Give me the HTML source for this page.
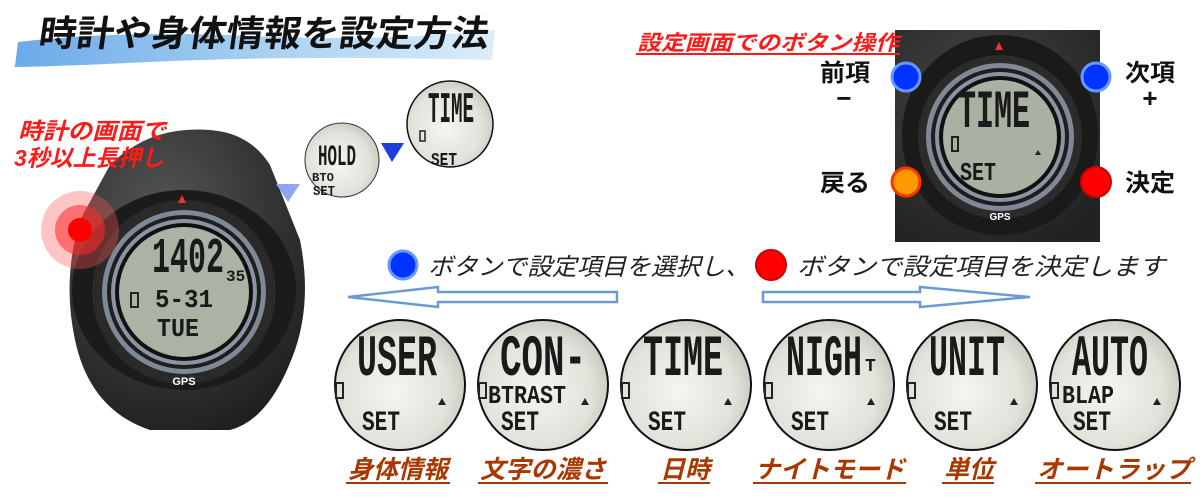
<!DOCTYPE html>
<html><head><meta charset="utf-8">
<style>
html,body{margin:0;padding:0;background:#fff;}
svg{display:block;}
.jp{font-family:"Liberation Sans","Noto Sans CJK JP",sans-serif;}
.lcd{font-family:"Liberation Mono","DejaVu Sans Mono",monospace;font-weight:bold;fill:#1a1a1a;}
</style></head>
<body>
<svg width="1200" height="500" viewBox="0 0 1200 500" xmlns="http://www.w3.org/2000/svg">
<defs>
<radialGradient id="lcdg" cx="0.45" cy="0.55" r="0.6">
<stop offset="0" stop-color="#f4f6f1"/><stop offset="0.7" stop-color="#dfe3da"/><stop offset="1" stop-color="#c3c8bd"/>
</radialGradient>
<linearGradient id="brush" x1="0" x2="1" y1="0" y2="0">
<stop offset="0" stop-color="#5aa0e6"/><stop offset="0.5" stop-color="#9cc9f0"/><stop offset="1" stop-color="#d8ebfa"/>
</linearGradient>
<radialGradient id="body" cx="0.4" cy="0.3" r="0.8">
<stop offset="0" stop-color="#555"/><stop offset="1" stop-color="#1c1c1c"/>
</radialGradient>
<g id="lcdC">
<circle r="65" fill="url(#lcdg)" stroke="#111" stroke-width="2"/>
<rect x="-64" y="-2" width="7" height="15" fill="none" stroke="#222" stroke-width="2"/>
<path d="M38 20 l4 -7 l4 7z" fill="#222"/>
</g>
</defs>

<!-- title -->
<path d="M18 42 Q120 30 250 36 T495 30 L492 60 Q300 55 150 62 T15 66 Z" fill="url(#brush)" opacity="0.9"/>
<text x="38" y="46" class="jp" font-size="36" font-weight="bold" fill="#111" textLength="450" lengthAdjust="spacingAndGlyphs" transform="skewX(-8) translate(6,0)">時計や身体情報を設定方法</text>

<!-- left watch -->
<path d="M110 165 Q150 125 210 130 Q250 133 270 165 L300 240 Q312 300 295 350 Q270 420 230 430 L150 430 Q90 410 75 340 Q62 280 80 220 Z" fill="url(#body)"/>
<ellipse cx="184" cy="290" rx="112" ry="100" fill="#1b1b1b"/>
<circle cx="184" cy="292" r="92" fill="#2a2a2a"/>
<circle cx="184" cy="292" r="82" fill="#7e8896"/>
<circle cx="184" cy="292" r="77" fill="#1e1e1e"/>
<circle cx="184" cy="292" r="73" fill="#8a94a2"/>
<circle cx="184" cy="292" r="69" fill="#111"/>
<circle cx="184" cy="292" r="65" fill="#aab3a4"/>
<path d="M178 203 l4 -8 l4 8z" fill="#e33"/>
<text x="184" y="385" text-anchor="middle" font-family="Liberation Sans" font-weight="bold" font-size="11" fill="#fff">GPS</text>
<text x="152" y="272" class="lcd" font-size="50" textLength="72" lengthAdjust="spacingAndGlyphs">1402</text>
<text x="226" y="281" class="lcd" font-size="16">35</text>
<text x="155" y="307" class="lcd" font-size="26" textLength="58" lengthAdjust="spacingAndGlyphs">5-31</text>
<text x="157" y="336" class="lcd" font-size="26" textLength="42" lengthAdjust="spacingAndGlyphs">TUE</text>
<rect x="131" y="293" width="7" height="14" fill="none" stroke="#222" stroke-width="2"/>
<circle cx="80" cy="230" r="39" fill="#ff5555" opacity="0.35"/>
<circle cx="80" cy="230" r="25" fill="#ff2a2a" opacity="0.55"/>
<circle cx="80" cy="230" r="12" fill="#ff0000"/>

<!-- red label -->
<text x="18" y="139" class="jp" font-size="23" font-style="italic" font-weight="bold" fill="#ff1a1a" textLength="148" lengthAdjust="spacingAndGlyphs">時計の画面で</text>
<text x="14" y="166" class="jp" font-size="23" font-style="italic" font-weight="bold" fill="#ff1a1a" textLength="150" lengthAdjust="spacingAndGlyphs">3秒以上長押し</text>

<!-- triangles -->
<path d="M276 184 L300 184 L288 202 Z" fill="#8fa6f0"/>
<path d="M381 143 L404 143 L392 162 Z" fill="#1f3de0"/>

<!-- HOLD circle -->
<circle cx="342" cy="160" r="37" fill="url(#lcdg)" stroke="#333" stroke-width="1"/>
<text x="318" y="165" class="lcd" font-size="30" textLength="38" lengthAdjust="spacingAndGlyphs">HOLD</text>
<text x="312" y="181" class="lcd" font-size="12" textLength="22" lengthAdjust="spacingAndGlyphs">BTO</text>
<text x="313" y="195" class="lcd" font-size="14" textLength="22" lengthAdjust="spacingAndGlyphs">SET</text>

<!-- TIME small -->
<circle cx="450" cy="124" r="43" fill="url(#lcdg)" stroke="#111" stroke-width="1.5"/>
<text x="428" y="122" class="lcd" font-size="44" textLength="46" lengthAdjust="spacingAndGlyphs">TIME</text>
<rect x="420" y="131" width="5" height="10" fill="none" stroke="#222" stroke-width="1.5"/>
<text x="431" y="165" class="lcd" font-size="18" textLength="26" lengthAdjust="spacingAndGlyphs">SET</text>

<!-- right watch -->
<path d="M895 30 L1100 30 L1100 242 L895 242Z" fill="#2a2a2a"/>
<path d="M895 30 L1100 30 L1100 242 L895 242Z" fill="url(#body)" opacity="0.6"/>
<ellipse cx="1000" cy="135" rx="98" ry="100" fill="#1a1a1a"/>
<circle cx="1000" cy="137" r="82" fill="#2b2b2b"/>
<circle cx="1000" cy="137" r="74" fill="#7e8896"/>
<circle cx="1000" cy="137" r="69" fill="#1e1e1e"/>
<circle cx="1000" cy="137" r="65" fill="#8a94a2"/>
<circle cx="1000" cy="137" r="61" fill="#111"/>
<circle cx="1000" cy="137" r="57" fill="#a8b1a2"/>
<path d="M995 50 l4 -8 l4 8z" fill="#e33"/>
<text x="1000" y="220" text-anchor="middle" font-family="Liberation Sans" font-weight="bold" font-size="10" fill="#fff">GPS</text>
<text x="958" y="127" class="lcd" font-size="54" textLength="72" lengthAdjust="spacingAndGlyphs">TIME</text>
<rect x="952" y="137" width="6" height="14" fill="none" stroke="#222" stroke-width="2"/>
<text x="960" y="180" class="lcd" font-size="26" textLength="36" lengthAdjust="spacingAndGlyphs">SET</text>
<path d="M1035 155 l3 -5 l3 5z" fill="#222"/>

<circle cx="906" cy="77" r="14" fill="#0033ff" stroke="#6699ff" stroke-width="3"/>
<circle cx="1096" cy="77" r="14" fill="#0033ff" stroke="#6699ff" stroke-width="3"/>
<circle cx="906" cy="182" r="14" fill="#ff9900" stroke="#ff3300" stroke-width="3"/>
<circle cx="1096" cy="182" r="15" fill="#ff0000" stroke="#cc0000" stroke-width="2"/>

<text x="637" y="50" class="jp" font-size="21" font-style="italic" font-weight="bold" fill="#ff1a1a" textLength="262" lengthAdjust="spacingAndGlyphs">設定画面でのボタン操作</text>
<rect x="636" y="53" width="264" height="2" fill="#ff1a1a"/>
<text x="820" y="81" class="jp" font-size="24" font-weight="bold" fill="#111" textLength="50" lengthAdjust="spacingAndGlyphs">前項</text>
<text x="844" y="107" class="jp" font-size="26" font-weight="bold" fill="#111" text-anchor="middle">−</text>
<text x="1125" y="81" class="jp" font-size="24" font-weight="bold" fill="#111" textLength="50" lengthAdjust="spacingAndGlyphs">次項</text>
<text x="1150" y="107" class="jp" font-size="26" font-weight="bold" fill="#111" text-anchor="middle">+</text>
<text x="820" y="191" class="jp" font-size="24" font-weight="bold" fill="#111" textLength="50" lengthAdjust="spacingAndGlyphs">戻る</text>
<text x="1125" y="191" class="jp" font-size="24" font-weight="bold" fill="#111" textLength="50" lengthAdjust="spacingAndGlyphs">決定</text>

<!-- middle instruction -->
<circle cx="403" cy="265" r="14" fill="#0033ff" stroke="#6699ff" stroke-width="3"/>
<text x="428" y="275" class="jp" font-size="24" font-style="italic" fill="#222" textLength="322" lengthAdjust="spacingAndGlyphs">ボタンで設定項目を選択し、</text>
<circle cx="771" cy="265" r="15" fill="#ff0000" stroke="#cc0000" stroke-width="2"/>
<text x="797" y="275" class="jp" font-size="24" font-style="italic" fill="#222" textLength="368" lengthAdjust="spacingAndGlyphs">ボタンで設定項目を決定します</text>

<!-- arrows -->
<path d="M617 292 L438 292 L438 287 L348 297 L438 307 L438 302 L617 302 Z" fill="#fff" stroke="#6a9ad0" stroke-width="2.5"/>
<path d="M763 292 L920 292 L920 287 L1030 297 L920 307 L920 302 L763 302 Z" fill="#fff" stroke="#6a9ad0" stroke-width="2.5"/>

<!-- bottom LCDs -->
<g transform="translate(400,385)"><use href="#lcdC"/>
<text x="-43" y="-10" class="lcd" font-size="58" textLength="80" lengthAdjust="spacingAndGlyphs">USER</text>
<text x="-38" y="45" class="lcd" font-size="28" textLength="38" lengthAdjust="spacingAndGlyphs">SET</text></g>
<g transform="translate(543,385)"><use href="#lcdC"/>
<text x="-43" y="-10" class="lcd" font-size="58" textLength="86" lengthAdjust="spacingAndGlyphs">CON-</text>
<text x="-55" y="18" class="lcd" font-size="26" textLength="78" lengthAdjust="spacingAndGlyphs">BTRAST</text>
<text x="-42" y="45" class="lcd" font-size="28" textLength="38" lengthAdjust="spacingAndGlyphs">SET</text></g>
<g transform="translate(686,385)"><use href="#lcdC"/>
<text x="-43" y="-10" class="lcd" font-size="58" textLength="80" lengthAdjust="spacingAndGlyphs">TIME</text>
<text x="-38" y="45" class="lcd" font-size="28" textLength="38" lengthAdjust="spacingAndGlyphs">SET</text></g>
<g transform="translate(829,385)"><use href="#lcdC"/>
<text x="-43" y="-10" class="lcd" font-size="58" textLength="76" lengthAdjust="spacingAndGlyphs">NIGH</text>
<text x="36" y="-14" class="lcd" font-size="18">T</text>
<text x="-38" y="45" class="lcd" font-size="28" textLength="38" lengthAdjust="spacingAndGlyphs">SET</text></g>
<g transform="translate(972,385)"><use href="#lcdC"/>
<text x="-43" y="-10" class="lcd" font-size="58" textLength="76" lengthAdjust="spacingAndGlyphs">UNIT</text>
<text x="-38" y="45" class="lcd" font-size="28" textLength="38" lengthAdjust="spacingAndGlyphs">SET</text></g>
<g transform="translate(1115,385)"><use href="#lcdC"/>
<text x="-43" y="-10" class="lcd" font-size="58" textLength="76" lengthAdjust="spacingAndGlyphs">AUTO</text>
<text x="-53" y="18" class="lcd" font-size="26" textLength="52" lengthAdjust="spacingAndGlyphs">BLAP</text>
<text x="-42" y="45" class="lcd" font-size="28" textLength="38" lengthAdjust="spacingAndGlyphs">SET</text></g>

<!-- labels -->
<g class="jp" font-size="25" font-style="italic" font-weight="bold" fill="#a83800">
<text x="348" y="478" textLength="100" lengthAdjust="spacingAndGlyphs">身体情報</text>
<text x="480" y="478" textLength="126" lengthAdjust="spacingAndGlyphs">文字の濃さ</text>
<text x="660" y="478" textLength="50" lengthAdjust="spacingAndGlyphs">日時</text>
<text x="755" y="478" textLength="150" lengthAdjust="spacingAndGlyphs">ナイトモード</text>
<text x="944" y="478" textLength="50" lengthAdjust="spacingAndGlyphs">単位</text>
<text x="1037" y="478" textLength="154" lengthAdjust="spacingAndGlyphs">オートラップ</text>
</g>
<g fill="#a83800">
<rect x="346" y="482" width="104" height="2"/>
<rect x="478" y="482" width="130" height="2"/>
<rect x="658" y="482" width="52" height="2"/>
<rect x="753" y="482" width="153" height="2"/>
<rect x="942" y="482" width="52" height="2"/>
<rect x="1035" y="482" width="156" height="2"/>
</g>
</svg>
</body></html>
